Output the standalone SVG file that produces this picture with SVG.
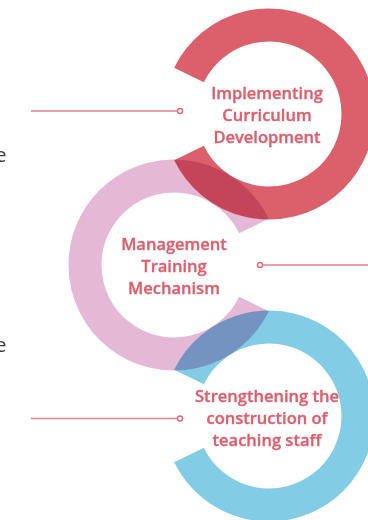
<svg xmlns="http://www.w3.org/2000/svg" width="368" height="520" viewBox="0 0 368 520">
<style>
.ring{fill:none;stroke-width:33;stroke-linecap:butt;mix-blend-mode:multiply}
.lbl{font-family:"Open Sans","Liberation Sans",sans-serif;font-weight:600;font-size:16.5px;fill:#DD5F6E;stroke:#DD5F6E;stroke-width:0.35;text-anchor:middle}
.side{font-family:"Open Sans","Liberation Sans",sans-serif;font-size:20px;fill:#3c3c3c;text-anchor:end}
.conn{stroke:#E6808C;stroke-width:1.4;fill:none}
.dot{stroke:#E06A78;stroke-width:1.4;fill:#fff}
</style>
<rect width="368" height="520" fill="#fff"/>
<g id="side-text">
<text class="side" x="6.5" y="162">e</text>
<text class="side" x="6.5" y="352">e</text>
</g>
<g id="node-management">
<path class="ring" stroke="#E5B8D6" d="M254,226 A89,89 0 1 0 254,304"/>
</g>
<g id="node-curriculum">
<path class="ring" stroke="#DB606B" d="M189,75 A89,89 0 1 1 189,153"/>
</g>
<g id="node-staff">
<path class="ring" stroke="#82CCE5" d="M189,377 A89,89 0 1 1 189,455"/>
</g>
<g id="labels">
<text class="lbl" x="267" y="98.5">Implementing</text>
<text class="lbl" x="267" y="120.5">Curriculum</text>
<text class="lbl" x="267" y="142.5">Development</text>
<text class="lbl" x="174" y="249.5">Management</text>
<text class="lbl" x="174" y="271.5">Training</text>
<text class="lbl" x="174" y="293.5">Mechanism</text>
<text class="lbl" x="267" y="401.5">Strengthening the</text>
<text class="lbl" x="267" y="423.5">construction of</text>
<text class="lbl" x="267" y="445.5">teaching staff</text>
</g>
<g id="connectors">
<line class="conn" x1="31" y1="111" x2="177.5" y2="111"/>
<circle class="dot" cx="180" cy="111" r="2.5"/>
<line class="conn" x1="262.5" y1="265" x2="368" y2="265"/>
<circle class="dot" cx="260" cy="265" r="2.5"/>
<line class="conn" x1="31" y1="418.5" x2="177.5" y2="418.5"/>
<circle class="dot" cx="180" cy="418.5" r="2.5"/>
</g>
</svg>
